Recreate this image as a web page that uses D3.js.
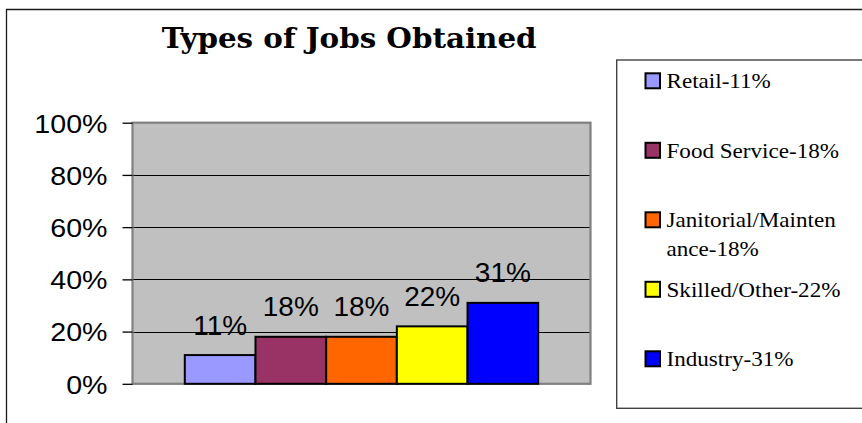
<!DOCTYPE html>
<html><head><meta charset="utf-8">
<script src="https://cdn.jsdelivr.net/npm/d3@7"></script>
<style>
html,body{margin:0;padding:0;background:#fff;}
svg{display:block;}
</style></head>
<body>
<svg id="chart" width="862" height="423"></svg>
<script>
const title = "Types of Jobs Obtained";
const category = "Jobs";
const seriesNames = ["Retail", "Food Service", "Janitorial/Maintenance", "Skilled/Other", "Industry"];
const seriesValues = [0.11, 0.18, 0.18, 0.22, 0.31];
const seriesColors = ["#9999FF", "#993366", "#FF6600", "#FFFF00", "#0000FF"];
const legendLabels = [["Retail-11%"], ["Food Service-18%"], ["Janitorial/Mainten", "ance-18%"], ["Skilled/Other-22%"], ["Industry-31%"]];
const yTicks = [0, 0.2, 0.4, 0.6, 0.8, 1.0];
const yTickLabels = ["0%", "20%", "40%", "60%", "80%", "100%"];

const svg = d3.select("#chart");
const plot = {left: 132.5, right: 590.5, top: 122.7, bottom: 383.8};

// outer frame
svg.append("path").attr("d", `M6.5,423 L6.5,9.5 L862,9.5`).attr("fill", "none")
  .attr("stroke", "#1a1a1a").attr("stroke-width", 1.3);

// title
const tt = svg.append("text").attr("x", 0).attr("y", 0).attr("text-anchor", "middle")
  .attr("font-family", "'DejaVu Serif','Liberation Serif',serif").attr("font-weight", "bold")
  .attr("font-size", 27.5)
  .text(title);
const tw = tt.node().getComputedTextLength();
tt.attr("transform", `translate(349.2,48.3) scale(${375 / tw},1)`);

const y = d3.scaleLinear().domain([0, 1]).range([plot.bottom, plot.top]);
const x0 = d3.scaleBand().domain([category]).range([plot.left, plot.right]).paddingOuter(0.148).paddingInner(0);
const x1 = d3.scaleBand().domain(seriesNames).range([0, x0.bandwidth()]).padding(0);

// plot background
svg.append("rect").attr("x", plot.left).attr("y", plot.top)
  .attr("width", plot.right - plot.left).attr("height", plot.bottom - plot.top)
  .attr("fill", "#C0C0C0");

// gridlines
svg.append("g").selectAll("line").data(yTicks.filter(t => t > 0 && t < 1)).join("line")
  .attr("x1", plot.left).attr("x2", plot.right)
  .attr("y1", d => Math.round(y(d)) + 0.5).attr("y2", d => Math.round(y(d)) + 0.5)
  .attr("stroke", "#000").attr("stroke-width", 1);

// plot border
svg.append("rect").attr("x", plot.left).attr("y", plot.top)
  .attr("width", plot.right - plot.left).attr("height", plot.bottom - plot.top)
  .attr("fill", "none").attr("stroke", "#808080").attr("stroke-width", 2.2);

// axis
const axis = d3.axisLeft(y).tickValues(yTicks).tickSize(10).tickPadding(15)
  .tickFormat((d, i) => yTickLabels[i]);
const ag = svg.append("g").attr("transform", `translate(${plot.left},0)`).call(axis);
ag.select(".domain").remove();
ag.selectAll(".tick line").attr("stroke", "#000").attr("stroke-width", 1.3);
ag.selectAll(".tick text").attr("font-family", "'Liberation Sans',Arial,sans-serif")
  .attr("font-size", 26).attr("fill", "#000").attr("dy", "0.36em")
  .attr("transform", function() { const xx = +d3.select(this).attr("x"); return `translate(${-xx*0.1},0) scale(1.1,1)`; });

// bars
const bars = svg.append("g").attr("transform", `translate(${x0(category)},0)`);
bars.selectAll("rect").data(seriesNames).join("rect")
  .attr("x", d => x1(d)).attr("width", x1.bandwidth())
  .attr("y", (d, i) => y(seriesValues[i])).attr("height", (d, i) => y(0) - y(seriesValues[i]))
  .attr("fill", (d, i) => seriesColors[i]).attr("stroke", "#000").attr("stroke-width", 2);

// value labels
bars.selectAll("text").data(seriesNames).join("text")
  .attr("x", d => x1(d) + x1.bandwidth() / 2)
  .attr("y", (d, i) => y(seriesValues[i]) - 20.4)
  .attr("text-anchor", "middle").attr("font-family", "'Liberation Sans',Arial,sans-serif")
  .attr("font-size", 28).attr("fill", "#000")
  .text((d, i) => Math.round(seriesValues[i] * 100) + "%");

// legend
svg.append("rect").attr("x", 616.7).attr("y", 60).attr("width", 300).attr("height", 348.3)
  .attr("fill", "#fff").attr("stroke", "#444").attr("stroke-width", 1.4);
const lg = svg.append("g");
const items = lg.selectAll("g").data(seriesNames).join("g")
  .attr("transform", (d, i) => `translate(0,${88.3 + i * 69.5})`);
items.append("rect").attr("x", 645.5).attr("y", -15).attr("width", 14.5).attr("height", 15)
  .attr("fill", (d, i) => seriesColors[i]).attr("stroke", "#000").attr("stroke-width", 2);
items.each(function(d, i) {
  const t = d3.select(this).append("text").attr("font-family", "'Liberation Serif','Times New Roman',serif")
    .attr("font-size", 21).attr("fill", "#000")
    .attr("transform", "translate(666.5,0) scale(1.1,1)");
  legendLabels[i].forEach((line, j) => {
    t.append("tspan").attr("x", 0).attr("y", j * 28.3).text(line);
  });
});
</script>
</body></html>
